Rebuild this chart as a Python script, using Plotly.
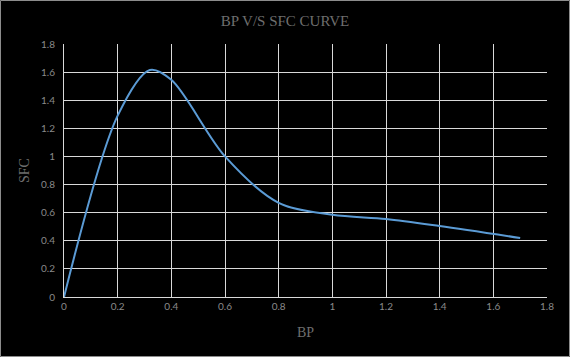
import plotly.graph_objects as go

bp = [0, 0.2, 0.32, 0.4, 0.6, 0.8, 1.0, 1.2, 1.4, 1.7]
sfc = [0, 1.29, 1.615, 1.545, 1.0, 0.67, 0.585, 0.555, 0.505, 0.42]
x_ticks = [0, 0.2, 0.4, 0.6, 0.8, 1, 1.2, 1.4, 1.6, 1.8]
y_ticks = [0, 0.2, 0.4, 0.6, 0.8, 1, 1.2, 1.4, 1.6, 1.8]

W, H = 570, 357
L, R, T, B = 64, 23, 44, 60
pw, ph = W - L - R, H - T - B

fig = go.Figure()
fig.add_trace(go.Scatter(
    x=bp, y=sfc, mode="lines",
    line=dict(color="#5b9bd5", width=2, shape="spline", smoothing=0.9),
    hoverinfo="skip", showlegend=False,
))

tick_font = dict(family="Lato, Liberation Sans, sans-serif", size=10, color="#8a8a8a")
title_font = dict(family="Liberation Serif, serif", size=14, color="#6e6e6e")

fig.update_layout(
    width=W, height=H,
    margin=dict(l=L, r=R, t=T, b=B),
    paper_bgcolor="black", plot_bgcolor="black",
    title=dict(text="BP V/S SFC CURVE", x=0.5, xanchor="center", y=1 - 21 / H, yanchor="middle",
               font=dict(family="Liberation Serif, serif", size=15, color="#6e6e6e")),
    xaxis=dict(range=[0, 1.8], tickvals=x_ticks, ticktext=[str(v) for v in x_ticks],
               showgrid=True, gridcolor="#d9d9d9", gridwidth=1,
               showline=True, linecolor="#d9d9d9", linewidth=1, zeroline=False,
               ticks="", tickfont=tick_font,
               title=dict(text="BP", font=title_font, standoff=16)),
    yaxis=dict(range=[0, 1.8], tickvals=y_ticks, ticktext=[str(v) for v in y_ticks],
               showgrid=True, gridcolor="#d9d9d9", gridwidth=1,
               showline=True, linecolor="#d9d9d9", linewidth=1, zeroline=False,
               ticks="", tickfont=tick_font, ticklabelstandoff=6,
               title=dict(text="SFC", font=title_font, standoff=8)),
)

# outer border of the chart
fig.add_shape(type="rect", xref="paper", yref="paper",
              x0=-(L - 0.5) / pw, x1=1 + (R - 0.5) / pw,
              y0=-(B - 0.5) / ph, y1=1 + (T - 0.5) / ph,
              line=dict(color="#8c8c8c", width=1), layer="below")

fig.write_html("out.html", config={"displayModeBar": False},
               post_script="document.body.style.margin='0';document.body.style.background='black';")
